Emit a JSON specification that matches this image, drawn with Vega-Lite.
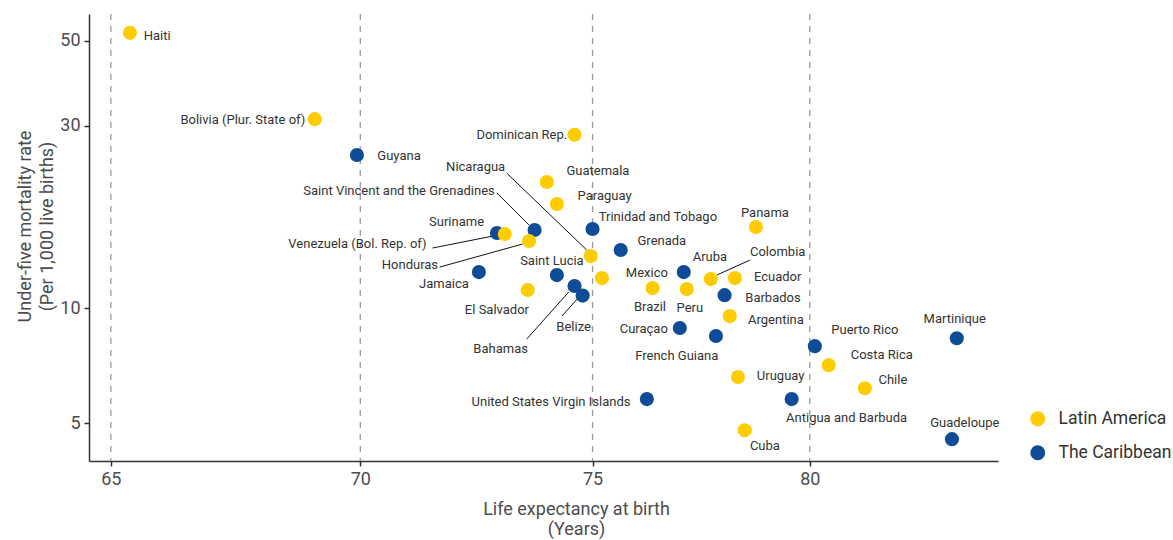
{
  "$schema": "https://vega.github.io/schema/vega-lite/v6.json",
  "width": 909,
  "height": 447,
  "autosize": {"type": "none"},
  "padding": {"left": 89, "top": 14, "right": 175, "bottom": 79},
  "background": "white",
  "config": {
    "view": {"stroke": null},
    "font": "Roboto",
    "axis": {
      "grid": false,
      "domainColor": "#333333",
      "domainWidth": 1.5,
      "tickColor": "#333333",
      "tickWidth": 1.5,
      "tickSize": 5,
      "labelFont": "Roboto",
      "labelFontSize": 18,
      "labelColor": "#4d4d4d",
      "titleFont": "Roboto",
      "titleFontSize": 18,
      "titleFontWeight": "normal",
      "titleColor": "#4d4d4d",
      "titleLineHeight": 20
    }
  },
  "datasets": {
    "countries": [
      {"country": "Haiti", "region": "Latin America", "le": 65.37, "u5mr": 52.5, "lx": 65.9, "ly": 51.5},
      {"country": "Bolivia (Plur. State of)", "region": "Latin America", "le": 69.06, "u5mr": 31.2, "lx": 67.6, "ly": 31.05},
      {"country": "Guyana", "region": "The Caribbean", "le": 69.93, "u5mr": 25.15, "lx": 70.81, "ly": 25.0},
      {"country": "Dominican Rep.", "region": "Latin America", "le": 74.6, "u5mr": 28.4, "lx": 73.44, "ly": 28.4},
      {"country": "Guatemala", "region": "Latin America", "le": 73.99, "u5mr": 21.37, "lx": 75.12, "ly": 22.84},
      {"country": "Nicaragua", "region": "Latin America", "le": 74.96, "u5mr": 13.68, "lx": 72.44, "ly": 23.4},
      {"country": "Paraguay", "region": "Latin America", "le": 74.21, "u5mr": 18.72, "lx": 75.27, "ly": 19.65},
      {"country": "Saint Vincent and the Grenadines", "region": "The Caribbean", "le": 73.72, "u5mr": 16.0, "lx": 70.81, "ly": 20.25},
      {"country": "Trinidad and Tobago", "region": "The Caribbean", "le": 75.0, "u5mr": 16.1, "lx": 76.47, "ly": 17.3},
      {"country": "Panama", "region": "Latin America", "le": 78.73, "u5mr": 16.29, "lx": 78.94, "ly": 17.73},
      {"country": "Suriname", "region": "The Caribbean", "le": 72.9, "u5mr": 15.72, "lx": 72.03, "ly": 16.8},
      {"country": "Venezuela (Bol. Rep. of)", "region": "Latin America", "le": 73.07, "u5mr": 15.62, "lx": 69.94, "ly": 14.71},
      {"country": "Honduras", "region": "Latin America", "le": 73.6, "u5mr": 14.98, "lx": 71.04, "ly": 12.96},
      {"country": "Grenada", "region": "The Caribbean", "le": 75.63, "u5mr": 14.19, "lx": 76.56, "ly": 14.98},
      {"country": "Jamaica", "region": "The Caribbean", "le": 72.51, "u5mr": 12.42, "lx": 71.76, "ly": 11.56},
      {"country": "Saint Lucia", "region": "The Caribbean", "le": 74.21, "u5mr": 12.2, "lx": 74.1, "ly": 13.28},
      {"country": "Mexico", "region": "Latin America", "le": 75.21, "u5mr": 11.98, "lx": 76.22, "ly": 12.35},
      {"country": "Brazil", "region": "Latin America", "le": 76.35, "u5mr": 11.28, "lx": 76.29, "ly": 10.06},
      {"country": "Peru", "region": "Latin America", "le": 77.13, "u5mr": 11.21, "lx": 77.2, "ly": 10.0},
      {"country": "Aruba", "region": "The Caribbean", "le": 77.06, "u5mr": 12.42, "lx": 77.66, "ly": 13.6},
      {"country": "Colombia", "region": "Latin America", "le": 77.68, "u5mr": 11.91, "lx": 79.24, "ly": 14.02},
      {"country": "Ecuador", "region": "Latin America", "le": 78.24, "u5mr": 11.98, "lx": 79.24, "ly": 12.05},
      {"country": "Barbados", "region": "The Caribbean", "le": 78.0, "u5mr": 10.81, "lx": 79.13, "ly": 10.62},
      {"country": "Argentina", "region": "Latin America", "le": 78.12, "u5mr": 9.53, "lx": 79.2, "ly": 9.3},
      {"country": "Curaçao", "region": "The Caribbean", "le": 76.97, "u5mr": 8.87, "lx": 76.15, "ly": 8.81},
      {"country": "French Guiana", "region": "The Caribbean", "le": 77.8, "u5mr": 8.45, "lx": 76.9, "ly": 7.49},
      {"country": "El Salvador", "region": "Latin America", "le": 73.57, "u5mr": 11.15, "lx": 72.9, "ly": 9.88},
      {"country": "Bahamas", "region": "The Caribbean", "le": 74.6, "u5mr": 11.42, "lx": 72.98, "ly": 7.81},
      {"country": "Belize", "region": "The Caribbean", "le": 74.78, "u5mr": 10.78, "lx": 74.58, "ly": 8.92},
      {"country": "Puerto Rico", "region": "The Caribbean", "le": 80.12, "u5mr": 7.95, "lx": 81.32, "ly": 8.76},
      {"country": "Costa Rica", "region": "Latin America", "le": 80.45, "u5mr": 7.09, "lx": 81.73, "ly": 7.53},
      {"country": "Chile", "region": "Latin America", "le": 81.32, "u5mr": 6.17, "lx": 82.0, "ly": 6.48},
      {"country": "Uruguay", "region": "Latin America", "le": 78.31, "u5mr": 6.6, "lx": 79.31, "ly": 6.64},
      {"country": "Martinique", "region": "The Caribbean", "le": 83.57, "u5mr": 8.34, "lx": 83.52, "ly": 9.36},
      {"country": "United States Virgin Islands", "region": "The Caribbean", "le": 76.22, "u5mr": 5.78, "lx": 74.08, "ly": 5.68},
      {"country": "Antigua and Barbuda", "region": "The Caribbean", "le": 79.57, "u5mr": 5.78, "lx": 80.88, "ly": 5.15},
      {"country": "Cuba", "region": "Latin America", "le": 78.47, "u5mr": 4.79, "lx": 78.94, "ly": 4.35},
      {"country": "Guadeloupe", "region": "The Caribbean", "le": 83.45, "u5mr": 4.54, "lx": 83.77, "ly": 5.0}
    ],
    "leaders": [
      {"country": "Nicaragua", "x1": 73.11, "y1": 22.56, "x2": 74.87, "y2": 14.19},
      {"country": "Saint Vincent and the Grenadines", "x1": 72.9, "y1": 20.0, "x2": 73.6, "y2": 16.49},
      {"country": "Venezuela (Bol. Rep. of)", "x1": 71.52, "y1": 14.36, "x2": 73.03, "y2": 15.62},
      {"country": "Honduras", "x1": 71.67, "y1": 12.8, "x2": 73.46, "y2": 14.71},
      {"country": "Colombia", "x1": 77.82, "y1": 12.2, "x2": 78.59, "y2": 13.35},
      {"country": "Belize", "x1": 74.32, "y1": 9.53, "x2": 74.72, "y2": 10.75},
      {"country": "Bahamas", "x1": 73.55, "y1": 8.3, "x2": 74.47, "y2": 11.01}
    ],
    "refs": [{"v": 65}, {"v": 70}, {"v": 75}, {"v": 80}]
  },
  "layer": [
    {
      "data": {"name": "refs"},
      "mark": {"type": "rule", "color": "#9a9a9a", "strokeDash": [6, 6], "strokeWidth": 1.3},
      "encoding": {
        "x": {
          "field": "v", "type": "quantitative",
          "scale": {"type": "log", "domain": [64.58, 84.6], "nice": false, "zero": false},
          "axis": {
            "values": [65, 70, 75, 80],
            "title": ["Life expectancy at birth", "(Years)"],
            "titleX": 487,
            "titlePadding": 12,
            "labelPadding": 4
          }
        }
      }
    },
    {
      "data": {"name": "leaders"},
      "mark": {"type": "rule", "color": "#111111", "strokeWidth": 1},
      "encoding": {
        "x": {"field": "x1", "type": "quantitative"},
        "y": {"field": "y1", "type": "quantitative"},
        "x2": {"field": "x2"},
        "y2": {"field": "y2"}
      }
    },
    {
      "data": {"name": "countries"},
      "mark": {"type": "circle", "size": 200, "opacity": 1},
      "encoding": {
        "x": {"field": "le", "type": "quantitative"},
        "y": {
          "field": "u5mr", "type": "quantitative",
          "scale": {"type": "log", "domain": [3.98, 58.8], "nice": false, "zero": false},
          "axis": {
            "values": [5, 10, 30, 50],
            "title": ["Under-five mortality rate", "(Per 1,000 live births)"],
            "titlePadding": 3,
            "titleLineHeight": 22,
            "titleY": 212,
            "labelPadding": 4
          }
        },
        "color": {
          "field": "region", "type": "nominal",
          "scale": {"domain": ["Latin America", "The Caribbean"], "range": ["#FFCC00", "#0F4C97"]},
          "legend": {
            "title": null,
            "orient": "none",
            "legendX": 940,
            "legendY": 396,
            "symbolType": "circle",
            "symbolSize": 220,
            "symbolOpacity": 1,
            "symbolStrokeWidth": 0,
            "labelFontSize": 17.5,
            "labelColor": "#333333",
            "labelFont": "Roboto",
            "labelOffset": 12,
            "rowPadding": 15,
            "padding": 0
          }
        }
      }
    },
    {
      "data": {"name": "countries"},
      "mark": {"type": "text", "font": "Roboto", "fontSize": 13, "color": "#333333", "align": "center", "baseline": "middle"},
      "encoding": {
        "x": {"field": "lx", "type": "quantitative"},
        "y": {"field": "ly", "type": "quantitative"},
        "text": {"field": "country", "type": "nominal"}
      }
    }
  ]
}
